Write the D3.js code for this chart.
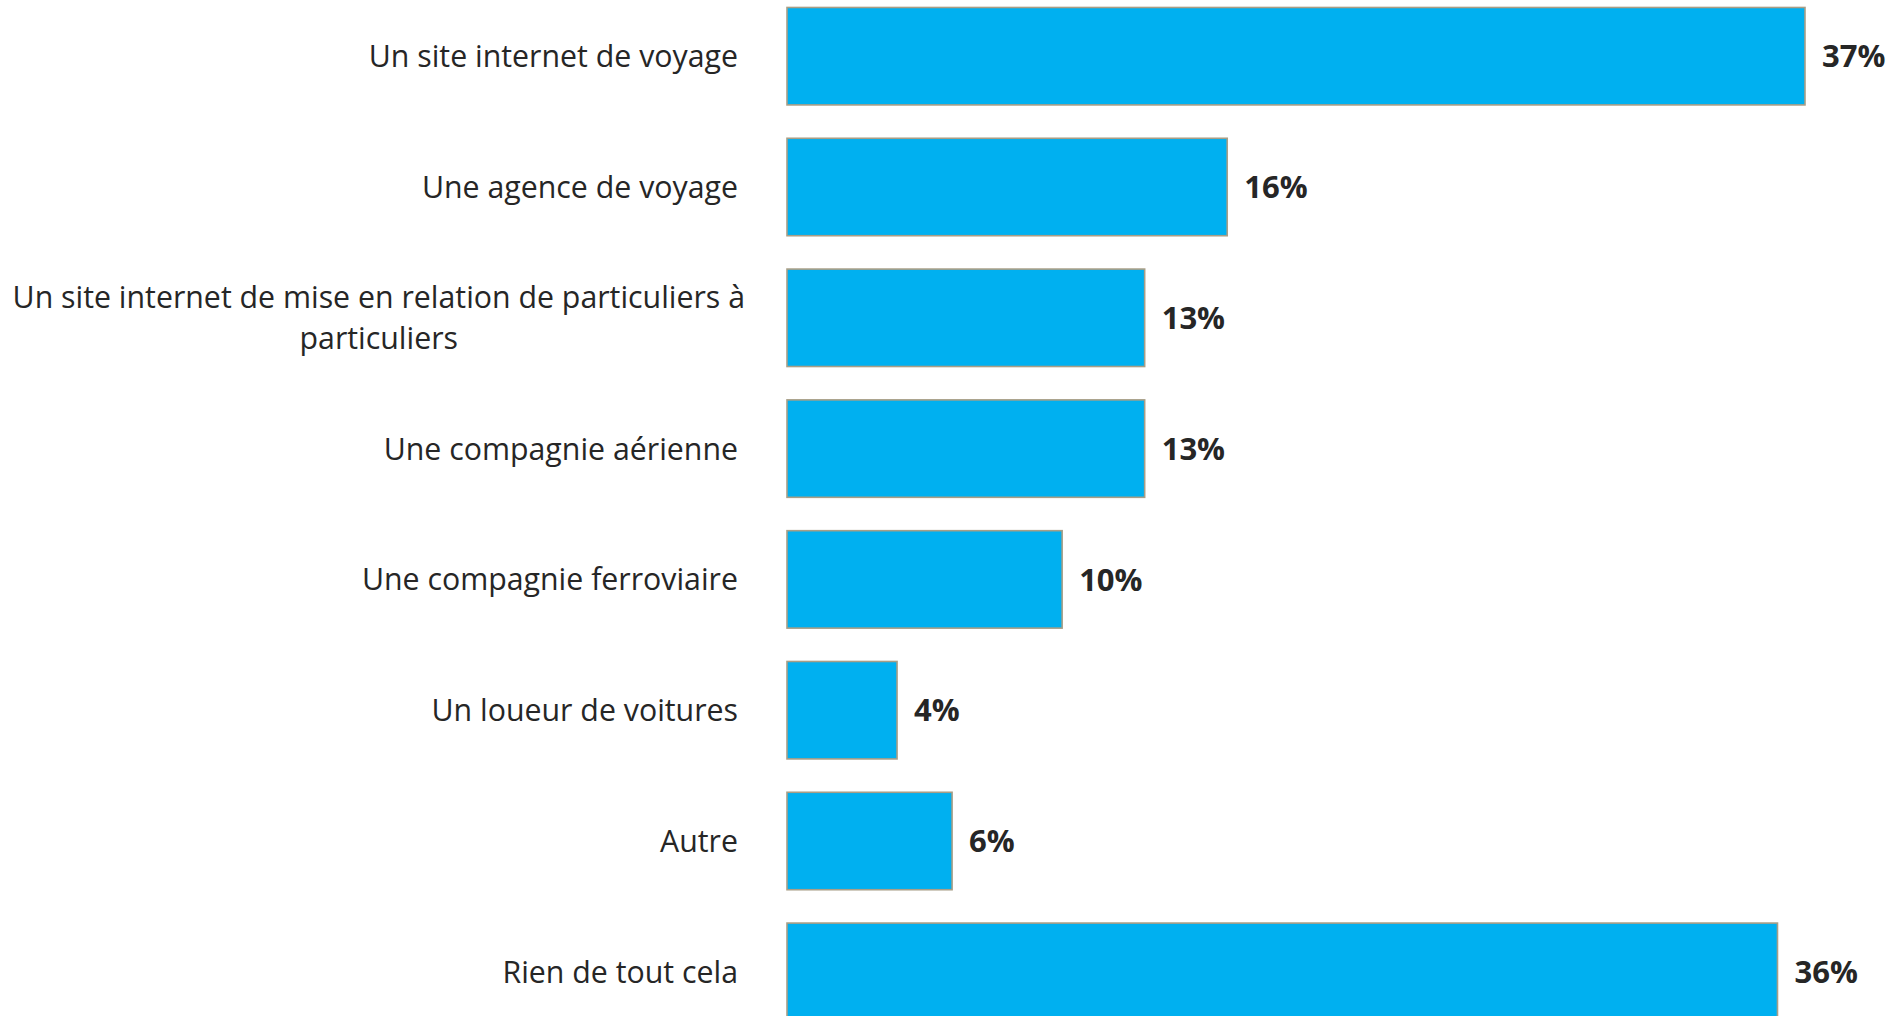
<!DOCTYPE html>
<html>
<head>
<meta charset="utf-8">
<script src="https://cdn.jsdelivr.net/npm/d3@7"></script>
<style>
  html, body { margin: 0; padding: 0; background: #ffffff; overflow: hidden; }
  svg { display: block; }
</style>
</head>
<body>
<svg id="chart" width="1903" height="1016"></svg>
<script>
const categories = [
  "Un site internet de voyage",
  "Une agence de voyage",
  "Un site internet de mise en relation de particuliers à particuliers",
  "Une compagnie aérienne",
  "Une compagnie ferroviaire",
  "Un loueur de voitures",
  "Autre",
  "Rien de tout cela"
];
const values = [37, 16, 13, 13, 10, 4, 6, 36];
const labelLines = [
  ["Un site internet de voyage"],
  ["Une agence de voyage"],
  ["Un site internet de mise en relation de particuliers à", "particuliers"],
  ["Une compagnie aérienne"],
  ["Une compagnie ferroviaire"],
  ["Un loueur de voitures"],
  ["Autre"],
  ["Rien de tout cela"]
];

const svg = d3.select("#chart");
const x0 = 787;
const x = d3.scaleLinear().domain([0, 37]).range([x0, 1805]);
const y = d3.scaleBand()
  .domain(categories)
  .range([-9.2, 1037.2])
  .paddingInner(0.255)
  .paddingOuter(0.1275);

const labelFont = "'Open Sans', sans-serif";

svg.append("g").selectAll("rect")
  .data(categories)
  .join("rect")
  .attr("x", x(0))
  .attr("y", d => y(d))
  .attr("width", (d, i) => x(values[i]) - x(0))
  .attr("height", y.bandwidth())
  .attr("fill", "#00B0F0")
  .attr("stroke", "#A89E86")
  .attr("stroke-width", 1.6);

svg.append("g").selectAll("text")
  .data(categories)
  .join("text")
  .attr("x", (d, i) => x(values[i]) + 17)
  .attr("y", d => y(d) + y.bandwidth() / 2)
  .attr("dy", "0.36em")
  .attr("font-family", labelFont)
  .attr("font-weight", 700)
  .attr("font-size", 31)
  .attr("fill", "#262626")
  .text((d, i) => values[i] + "%");

// category labels
const lineH = 41;
const labelRight = 738;
const catG = svg.append("g");
categories.forEach((c, i) => {
  const lines = labelLines[i];
  const cy = y(c) + y.bandwidth() / 2;
  const g = catG.append("g");
  const texts = lines.map((ln, k) => g.append("text")
    .attr("font-family", labelFont)
    .attr("font-size", 30.3)
    .attr("fill", "#262626")
    .attr("y", cy + (k - (lines.length - 1) / 2) * lineH)
    .attr("dy", "0.36em")
    .text(ln));
  if (lines.length === 1) {
    texts[0].attr("x", labelRight).attr("text-anchor", "end");
  } else {
    const widths = texts.map(t => t.node().getComputedTextLength());
    const maxW = d3.max(widths);
    const center = 745 - maxW / 2;
    texts.forEach(t => t.attr("x", center).attr("text-anchor", "middle"));
  }
});
</script>
</body>
</html>
